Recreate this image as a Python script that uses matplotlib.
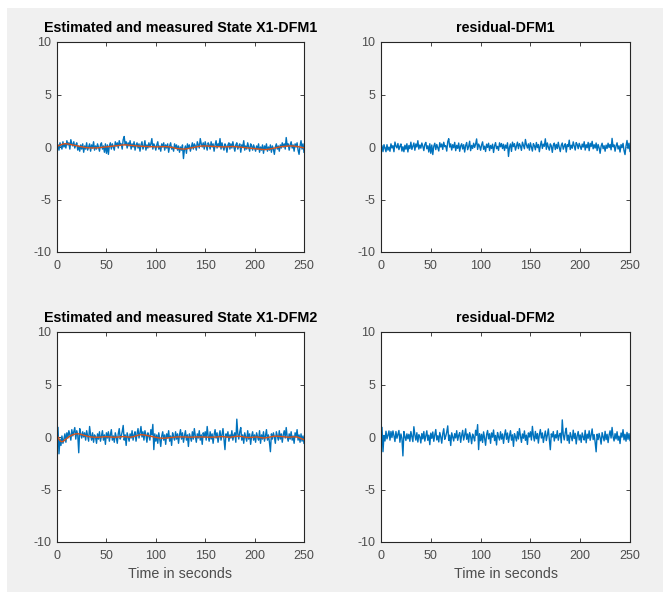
# Estimated vs measured state and residuals, two DFM cases (MATLAB-style 2x2)

import matplotlib
matplotlib.use("Agg")
import matplotlib.pyplot as plt
from matplotlib.patches import Rectangle
import numpy as np

# --- data ------------------------------------------------------------------
measured_dfm1 = [
    0.2, -0.3, 0.4, 0.1, -0.2, 0.5, 0.0, 0.3, -0.1, 0.6, 0.2, 0.4, -0.2, 0.7, 0.3, 0.1, 0.5, -0.1, 0.2, 0.4, -0.3, 0.1, -0.4, 0.2, -0.2,
    0.3, -0.5, 0.1, -0.2, 0.4, -0.3, 0.0, 0.3, -0.4, 0.2, -0.1, 0.5, -0.3, 0.1, -0.2, 0.3, 0.0, -0.4, 0.2, 0.4, -0.2, 0.1, -0.5, 0.3, -0.6,
    0.2, -0.7, 0.1, 0.4, -0.2, 0.3, 0.0, -0.3, 0.5, 0.1, 0.4, -0.1, 0.6, 0.2, 0.3, -0.2, 0.7, 1.0, 0.2, 0.5, -0.1, 0.4, 0.1, 0.6, -0.2,
    0.3, 0.0, 0.5, -0.3, 0.2, 0.4, -0.1, 0.3, -0.4, 0.2, 0.5, -0.2, 0.1, 0.6, -0.3, 0.2, -0.1, 0.4, 0.0, 0.3, 0.8, -0.2, 0.3, 0.1, -0.3,
    0.2, 0.5, -0.2, 0.1, -0.4, 0.3, 0.0, 0.4, -0.3, 0.2, -0.1, 0.3, -0.5, 0.1, 0.4, -0.2, 0.0, -0.4, 0.3, -0.1, 0.2, -0.3, 0.1, -0.5, 0.0,
    -0.3, 0.2, -1.1, -0.2, 0.1, -0.6, 0.3, -0.1, 0.2, -0.4, 0.0, 0.4, -0.2, 0.3, 0.1, -0.3, 0.5, 0.2, -0.1, 0.8, 0.3, 0.0, 0.4, -0.2, 0.5,
    0.1, -0.3, 0.4, 0.2, -0.2, 0.5, 0.0, 0.3, -0.4, 0.2, 0.6, -0.1, 0.3, 0.1, 0.8, -0.2, 0.4, 0.0, -0.3, 0.3, 0.1, -0.5, 0.2, 0.4, -0.2,
    0.3, -0.1, 0.5, 0.0, -0.4, 0.2, 0.4, -0.2, 0.1, 0.3, -0.5, 0.2, 0.0, 0.6, -0.3, 0.1, -0.2, 0.4, 0.0, -0.4, 0.3, 0.1, -0.3, 0.2, -0.1,
    -0.4, 0.1, -0.2, 0.3, -0.5, 0.0, -0.3, 0.2, -0.6, 0.1, -0.2, 0.3, -0.4, 0.0, -0.3, 0.2, -0.5, 0.1, -0.2, -0.7, 0.0, 0.3, -0.2, 0.1, -0.4,
    0.2, -0.1, 0.4, 0.0, 0.3, -0.2, 0.9, 0.1, 0.3, -0.3, 0.2, 0.5, -0.1, 0.2, -0.4, 0.3, 0.0, 0.4, -0.3, -0.7, 0.1, 0.6, -0.2, 0.3, -0.5,
]

estimated_dfm1 = [
    0.10, 0.14, 0.18, 0.22, 0.25, 0.28, 0.30, 0.31, 0.31, 0.30,
    0.29, 0.27, 0.25, 0.23, 0.21, 0.19, 0.17, 0.15, 0.13, 0.11,
    0.09, 0.07, 0.05, 0.03, 0.01, -0.01, -0.03, -0.04, -0.05, -0.06,
    -0.07, -0.08, -0.08, -0.09, -0.09, -0.10, -0.10, -0.10, -0.09, -0.09,
    -0.08, -0.07, -0.06, -0.05, -0.04, -0.03, -0.02, -0.02, -0.01, 0.00,
    0.01, 0.02, 0.03, 0.04, 0.05, 0.06, 0.07, 0.08, 0.09, 0.10,
    0.11, 0.13, 0.15, 0.17, 0.18, 0.19, 0.20, 0.21, 0.21, 0.20,
    0.19, 0.18, 0.17, 0.16, 0.15, 0.14, 0.13, 0.12, 0.11, 0.10,
    0.09, 0.09, 0.08, 0.08, 0.07, 0.07, 0.06, 0.06, 0.05, 0.05,
    0.05, 0.04, 0.04, 0.04, 0.03, 0.03, 0.03, 0.02, 0.02, 0.01,
    0.01, 0.01, 0.02, 0.02, 0.03, 0.03, 0.04, 0.04, 0.04, 0.05,
    0.04, 0.03, 0.02, 0.00, -0.02, -0.04, -0.06, -0.08, -0.10, -0.12,
    -0.13, -0.15, -0.16, -0.17, -0.18, -0.19, -0.20, -0.20, -0.20, -0.19,
    -0.18, -0.16, -0.14, -0.12, -0.10, -0.08, -0.06, -0.04, -0.02, 0.00,
    0.02, 0.04, 0.05, 0.07, 0.08, 0.09, 0.10, 0.10, 0.10, 0.10,
    0.09, 0.09, 0.08, 0.08, 0.07, 0.07, 0.06, 0.06, 0.05, 0.05,
    0.04, 0.04, 0.03, 0.03, 0.02, 0.02, 0.01, 0.01, 0.00, 0.00,
    0.00, 0.01, 0.02, 0.03, 0.04, 0.05, 0.05, 0.05, 0.05, 0.04,
    0.03, 0.02, 0.01, 0.00, -0.01, -0.02, -0.03, -0.04, -0.05, -0.06,
    -0.07, -0.08, -0.09, -0.10, -0.11, -0.12, -0.13, -0.14, -0.15, -0.16,
    -0.17, -0.18, -0.19, -0.20, -0.21, -0.22, -0.23, -0.24, -0.25, -0.25,
    -0.25, -0.24, -0.23, -0.22, -0.20, -0.18, -0.16, -0.14, -0.12, -0.10,
    -0.08, -0.06, -0.04, -0.02, 0.00, 0.02, 0.03, 0.04, 0.05, 0.06,
    0.07, 0.08, 0.09, 0.10, 0.10, 0.10, 0.10, 0.09, 0.09, 0.08,
    0.07, 0.06, 0.05, 0.04, 0.02, 0.00, -0.02, -0.04, -0.06, -0.08,
]

measured_dfm2 = [
    0.9, -1.6, -0.2, -0.8, 0.1, -0.6, -0.2, 0.3, -0.5, 0.4, -0.1, 0.6, 0.2, -0.3, 0.7, 0.1, 0.5, 0.9, -0.2, 0.6, 0.2, -1.5, 0.8, 0.3, -0.1,
    0.5, 0.0, 0.4, -0.3, 0.6, 0.1, -0.4, 1.0, 0.2, -0.3, 0.4, -0.5, 0.2, 0.0, -0.6, 0.3, -0.2, 0.5, -0.4, 0.1, 0.6, -0.3, 0.2, -0.7, 0.4,
    -0.1, 0.5, -0.4, 0.2, 0.7, -0.3, 0.1, -0.5, 0.4, 0.0, -0.6, 0.3, 0.8, -0.2, 0.1, 0.5, 1.1, -0.3, 0.2, -0.8, 0.4, 0.0, -0.4, 0.3, -0.1,
    0.6, -0.3, 0.2, 0.5, -0.4, 0.3, 0.8, -0.1, 0.4, 1.0, 0.0, 0.5, -0.3, 0.6, 0.2, -0.5, 0.4, 0.1, -0.3, 0.7, 0.2, 1.2, -1.2, 0.3, -0.4,
    0.2, -0.6, 0.4, -0.2, -0.9, 0.1, 0.5, -0.3, 0.2, -0.7, 0.3, -0.1, 0.6, -0.4, 0.1, -0.8, 0.4, 0.0, -0.3, 0.5, -0.2, 0.3, -0.6, 0.2, 0.7,
    -0.2, 0.4, -0.5, 0.1, 0.6, -0.3, 0.2, -0.9, 0.3, 0.0, -0.4, 0.5, -0.2, 0.8, 0.1, -0.5, 0.3, -0.1, 0.6, -0.3, 0.2, -0.7, 0.4, 0.0, 0.5,
    -0.3, 1.0, 0.1, -0.4, 0.5, -0.2, 0.3, -0.6, 0.2, 0.7, -0.1, 0.4, -0.5, 0.1, 0.6, -0.3, 0.2, 0.8, -0.2, -1.2, 0.3, 0.0, 0.5, -0.4, 0.2,
    -0.1, 0.6, -0.3, 0.2, 0.4, -0.5, 1.7, 0.3, -0.2, 0.5, 0.9, -0.3, 0.2, -0.6, 0.4, 0.0, -0.4, 0.6, -0.2, 0.3, -0.7, 0.1, 0.5, -0.3, 0.2,
    -0.5, 0.4, 0.0, -0.3, 0.6, -0.6, 0.2, -0.2, 0.5, -0.4, 0.1, 0.7, -0.3, 0.2, -0.5, -1.4, 0.3, -0.2, 0.4, 0.0, -0.6, 0.5, 0.1, -0.3, 0.6,
    -0.2, 0.3, -0.5, 0.2, 0.6, -0.1, 0.9, 0.0, -0.4, 0.3, -0.2, 0.5, -0.3, 0.1, -0.6, 0.4, 0.0, 0.7, -0.3, 0.2, -0.5, 0.3, -0.4, 0.1, -0.6,
]

estimated_dfm2 = [
    0.00, -0.20, -0.35, -0.42, -0.45, -0.42, -0.36, -0.28, -0.20, -0.12,
    -0.05, 0.02, 0.08, 0.13, 0.18, 0.22, 0.25, 0.28, 0.30, 0.31,
    0.31, 0.30, 0.28, 0.26, 0.23, 0.20, 0.17, 0.14, 0.11, 0.08,
    0.06, 0.04, 0.02, 0.01, 0.00, -0.01, -0.02, -0.02, -0.03, -0.03,
    -0.03, -0.02, -0.02, -0.01, 0.00, 0.01, 0.02, 0.02, 0.03, 0.03,
    0.03, 0.02, 0.01, 0.00, -0.01, -0.02, -0.02, -0.03, -0.03, -0.02,
    -0.01, 0.00, 0.01, 0.02, 0.03, 0.04, 0.04, 0.03, 0.02, 0.01,
    0.00, -0.01, -0.02, -0.02, -0.01, 0.00, 0.02, 0.05, 0.08, 0.11,
    0.14, 0.17, 0.19, 0.21, 0.22, 0.22, 0.21, 0.20, 0.18, 0.16,
    0.14, 0.12, 0.10, 0.08, 0.06, 0.04, 0.02, 0.00, -0.02, -0.04,
    -0.06, -0.08, -0.09, -0.10, -0.11, -0.12, -0.12, -0.12, -0.11, -0.10,
    -0.09, -0.08, -0.07, -0.06, -0.05, -0.04, -0.03, -0.02, -0.01, 0.00,
    0.00, 0.01, 0.01, 0.02, 0.02, 0.02, 0.02, 0.01, 0.01, 0.00,
    0.00, -0.01, -0.01, -0.02, -0.02, -0.02, -0.01, -0.01, 0.00, 0.00,
    0.01, 0.01, 0.02, 0.02, 0.02, 0.02, 0.01, 0.01, 0.00, 0.00,
    -0.01, -0.01, -0.02, -0.02, -0.03, -0.03, -0.03, -0.02, -0.02, -0.01,
    0.00, 0.01, 0.02, 0.03, 0.03, 0.04, 0.04, 0.03, 0.02, 0.01,
    0.00, -0.01, -0.02, -0.02, -0.02, -0.01, 0.00, 0.01, 0.02, 0.04,
    0.06, 0.07, 0.08, 0.08, 0.07, 0.06, 0.04, 0.02, 0.00, -0.02,
    -0.03, -0.04, -0.05, -0.05, -0.05, -0.04, -0.03, -0.02, -0.01, 0.00,
    0.01, 0.01, 0.00, -0.01, -0.03, -0.05, -0.07, -0.08, -0.09, -0.09,
    -0.08, -0.07, -0.05, -0.03, -0.01, 0.01, 0.03, 0.05, 0.06, 0.07,
    0.08, 0.08, 0.08, 0.07, 0.06, 0.05, 0.04, 0.03, 0.02, 0.01,
    0.00, -0.01, -0.02, -0.02, -0.02, -0.01, 0.00, 0.01, 0.02, 0.02,
    0.02, 0.01, 0.00, -0.03, -0.06, -0.10, -0.14, -0.18, -0.22, -0.26,
]

titles = ["Estimated and measured State X1-DFM1", "residual-DFM1",
          "Estimated and measured State X1-DFM2", "residual-DFM2"]
xticks = [0, 50, 100, 150, 200, 250]
yticks = [-10, -5, 0, 5, 10]
xlabel = "Time in seconds"

BLUE = "#0072BD"
ORANGE = "#D95319"
W, H = 663, 592

plt.rcParams['font.family'] = ['Liberation Sans', 'DejaVu Sans']
plt.rcParams['axes.unicode_minus'] = False

def _style(ax, title, with_xlabel):
    ax.set_xlim(0, 250)
    ax.set_ylim(-10, 10)
    ax.set_xticks(xticks)
    ax.set_yticks(yticks)
    ax.tick_params(direction="in", top=True, right=True, length=3,
                   width=0.6, labelsize=9, colors="#262626",
                   labelcolor="#4d4d4d")
    ax.tick_params(axis="x", pad=6)
    ax.tick_params(axis="y", pad=4)
    for s in ax.spines.values():
        s.set_color("#262626")
        s.set_linewidth(0.8)
    ax.set_title(title, fontsize=10.3, fontweight="bold", pad=7, color="black")
    if with_xlabel:
        ax.set_xlabel(xlabel, fontsize=10.3, color="#4d4d4d", labelpad=3)

fig = plt.figure(figsize=(W/100, H/100), dpi=100, facecolor="white")
fig.patches.append(Rectangle((7/W, 0), 1 - 7/W, 1 - 8/H, transform=fig.transFigure,
                             facecolor="#f0f0f0", edgecolor="none", zorder=-1))

# axes boxes in pixels: (left, top, right, bottom)
boxes = [(57, 42, 304, 252), (381, 42, 630, 252),
         (57, 332, 304, 542), (381, 332, 630, 542)]
axes = [fig.add_axes([l/W, 1 - b/H, (r - l)/W, (b - t)/H]) for l, t, r, b in boxes]

t = np.arange(1, len(measured_dfm1) + 1)
m1, e1 = np.array(measured_dfm1), np.array(estimated_dfm1)
m2, e2 = np.array(measured_dfm2), np.array(estimated_dfm2)

axes[0].plot(t, m1, color=BLUE, lw=1.0)
axes[0].plot(t, e1, color=ORANGE, lw=1.0)
axes[1].plot(t, m1 - e1, color=BLUE, lw=1.0)
axes[2].plot(t, m2, color=BLUE, lw=1.0)
axes[2].plot(t, e2, color=ORANGE, lw=1.0)
axes[3].plot(t, m2 - e2, color=BLUE, lw=1.0)

for i, ax in enumerate(axes):
    _style(ax, titles[i], i >= 2)

fig.savefig("out.png", dpi=100, facecolor=fig.get_facecolor())
